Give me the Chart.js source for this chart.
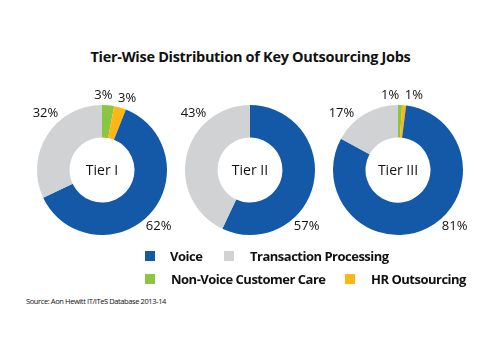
<!DOCTYPE html>
<html>
<head>
<meta charset="utf-8">
<script src="https://cdn.jsdelivr.net/npm/chart.js@4"></script>
<style>
  body { margin: 0; background: #fff; font-family: "Open Sans", sans-serif; }
  #page { position: relative; width: 501px; height: 341px; overflow: hidden; }
  #title { position: absolute; left: 0; width: 501px; top: 47px; text-align: center;
    font: bold 14.5px "Open Sans", sans-serif; color: #111; letter-spacing: -0.3px; }
  canvas { position: absolute; }
  .box { position: absolute; width: 10px; height: 10px; }
  .lbl { position: absolute; font: bold 13px "Open Sans", sans-serif; color: #111; line-height: 16px; letter-spacing: -0.5px; }
  #source { position: absolute; left: 26px; top: 296px; font: 7.5px "Liberation Sans Narrow", "Open Sans", sans-serif;
    color: #111; letter-spacing: -0.4px; }
</style>
</head>
<body>
<div id="page">
  <div id="title">Tier-Wise Distribution of Key Outsourcing Jobs</div>
  <canvas id="tier-1" width="160" height="170" style="left:22px;top:85px"></canvas>
  <canvas id="tier-2" width="160" height="170" style="left:170px;top:85px"></canvas>
  <canvas id="tier-3" width="160" height="170" style="left:318px;top:85px"></canvas>
  <div id="legend"></div>
  <div id="source">Source: Aon Hewitt IT/ITeS Database 2013-14</div>
</div>
<script>
'use strict'
///data///
let categories = ['Non-Voice Customer Care', 'HR Outsourcing', 'Voice', 'Transaction Processing']//clockwise from 12 o'clock
let tierNames = ['Tier I', 'Tier II', 'Tier III']
let tierOne = [3, 3, 62, 32]
let tierTwo = [0, 0, 57, 43]
let tierThree = [1, 1, 81, 17]
let colors = ['#8cc540', '#fdb614', '#1359a8', '#d1d2d4']

let allTiers = [tierOne, tierTwo, tierThree]

///legend (order as in the picture)///
let legendOrder = [2, 3, 0, 1]
let legendSpots = [[145, 250, 170], [224, 250, 250], [145, 273, 171], [345, 273, 371]]//box x, row y, text x
let legend = document.getElementById('legend')
for (let i = 0; i < legendOrder.length; i++) {
  let c = legendOrder[i]
  let spot = legendSpots[i]
  let box = document.createElement('div')
  box.className = 'box'
  box.style.left = spot[0] + 'px'
  box.style.top = (spot[1] + 1) + 'px'
  box.style.background = colors[c]
  legend.appendChild(box)
  let txt = document.createElement('div')
  txt.className = 'lbl'
  txt.style.left = spot[2] + 'px'
  txt.style.top = (spot[1] - 2) + 'px'
  txt.textContent = categories[c]
  legend.appendChild(txt)
}

///labels around the ring + name in the hole///
let ringLabels = {
  id: 'ringLabels',
  afterDatasetsDraw(chart) {
    let ctx = chart.ctx
    let meta = chart.getDatasetMeta(0)
    let values = chart.data.datasets[0].data
    let smallSeen = 0
    ctx.save()
    ctx.fillStyle = '#111'
    ctx.textBaseline = 'middle'
    meta.data.forEach(function (arc, i) {
      if (!values[i]) return
      let cx = arc.x, cy = arc.y
      let mid = (arc.startAngle + arc.endAngle) / 2
      let x, y
      ctx.font = '13px "Open Sans", sans-serif'
      if (values[i] < 10) {
        //small slices sit above the top, split at the seam between them
        if (smallSeen === 0) {
          let seam = arc.endAngle
          x = cx + Math.cos(seam) * 75 - 3.5
          y = cy + Math.sin(mid) * 75
          ctx.textAlign = 'right'
        } else {
          let seam = arc.startAngle
          x = cx + Math.cos(seam) * 75 + 2
          y = cy + Math.sin(mid) * 75
          ctx.textAlign = 'left'
        }
        smallSeen++
      } else {
        //big slices: snap to nearest diagonal
        let snap = Math.round((mid - Math.PI / 4) / (Math.PI / 2)) * (Math.PI / 2) + Math.PI / 4
        x = cx + Math.cos(snap) * 80
        y = cy + Math.sin(snap) * 80
        ctx.textAlign = 'center'
      }
      ctx.fillText(values[i] + '%', x, y)
    })
    ctx.font = '14px "Open Sans", sans-serif'
    ctx.textAlign = 'center'
    ctx.fillText(chart.options.plugins.ringLabels.name, meta.data[0].x, meta.data[0].y + 1)
    ctx.restore()
  }
}

function renderTier(canvasId, values, name) {
  let chartObject = {
    type: 'doughnut',
    data: {
      labels: categories,
      datasets: [{
        data: values,
        backgroundColor: colors,
        borderWidth: 0
      }]
    },
    options: {
      responsive: false,
      animation: false,
      cutout: '50%',
      layout: { padding: { left: 15, right: 15, top: 20, bottom: 20 } },
      plugins: {
        legend: { display: false },
        tooltip: { enabled: false },
        ringLabels: { name: name }
      }
    },
    plugins: [ringLabels]
  }
  new Chart(document.getElementById(canvasId).getContext('2d'), chartObject)
}

for (let i = 0; i < allTiers.length; i++) {
  renderTier('tier-' + (i + 1), allTiers[i], tierNames[i])
}
</script>
</body>
</html>
